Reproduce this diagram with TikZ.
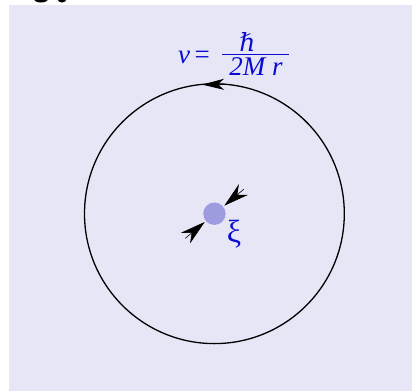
\documentclass[tikz,border=0pt]{standalone}
\usepackage{fontspec}
\setmainfont{Liberation Serif}
\newfontfamily\hbarfont{DejaVu Serif}
\usetikzlibrary{arrows.meta}
\definecolor{bgcol}{RGB}{230,230,246}
\definecolor{dotcol}{RGB}{156,156,222}
\definecolor{txtcol}{RGB}{10,10,210}
\tikzset{
  lbl/.style={text=txtcol, font=\fontsize{27}{30}\selectfont\itshape, inner sep=0pt},
  greek/.style={text=txtcol, font=\fontsize{32}{36}\selectfont, inner sep=0pt},
  pointer/.style={-{Stealth[length=25pt,width=14pt,inset=8pt]}, line width=0.6pt, black},
}
\begin{document}
\begin{tikzpicture}[x=1pt,y=-1pt]
\useasboundingbox (0,0) rectangle (412,391);
\fill[bgcol] (9,5) rectangle (412,391);
% cut-off marks at the top edge
\fill[black] (41,-1) ellipse [x radius=7, y radius=3.5];
\fill[black] (62,-1) ellipse [x radius=4.5, y radius=3.5];
% orbit
\coordinate (c) at (214.4,213.7);
\draw[line width=1.3pt] (c) circle [radius=129.9];
\coordinate (ob) at (225,84.3);
\coordinate (ot) at (202,84.6);
\draw[-{Stealth[length=22pt,width=11pt,inset=6pt]}, line width=1.3pt] (ob) -- (ot);
% particle
\node[circle, fill=dotcol, minimum size=22.4pt, inner sep=0pt] (dot) at (c) {};
\coordinate (ub) at (243.8,189.2);
\coordinate (ut) at (224.3,205.7);
\coordinate (lb) at (185.2,238.4);
\coordinate (lt) at (204.7,222);
\draw[pointer] (ub) -- (ut);
\draw[pointer] (lb) -- (lt);
\node[greek] (xi) at (234,234) {ξ};
% formula
\node[lbl, anchor=base west] (v) at (178,63) {v\,\upshape=};
\node[lbl, anchor=base, text depth=0pt] (num) at (247.5,51.5) {\hbarfont\itshape\fontsize{25}{30}\selectfont ℏ};
\coordinate (bl) at (222,54.5);
\coordinate (br) at (289,54.5);
\draw[txtcol, line width=1.4pt] (bl) -- (br);
\node[lbl, anchor=base, text height=18pt] (den) at (256,75) {2M r};
\end{tikzpicture}
\end{document}
